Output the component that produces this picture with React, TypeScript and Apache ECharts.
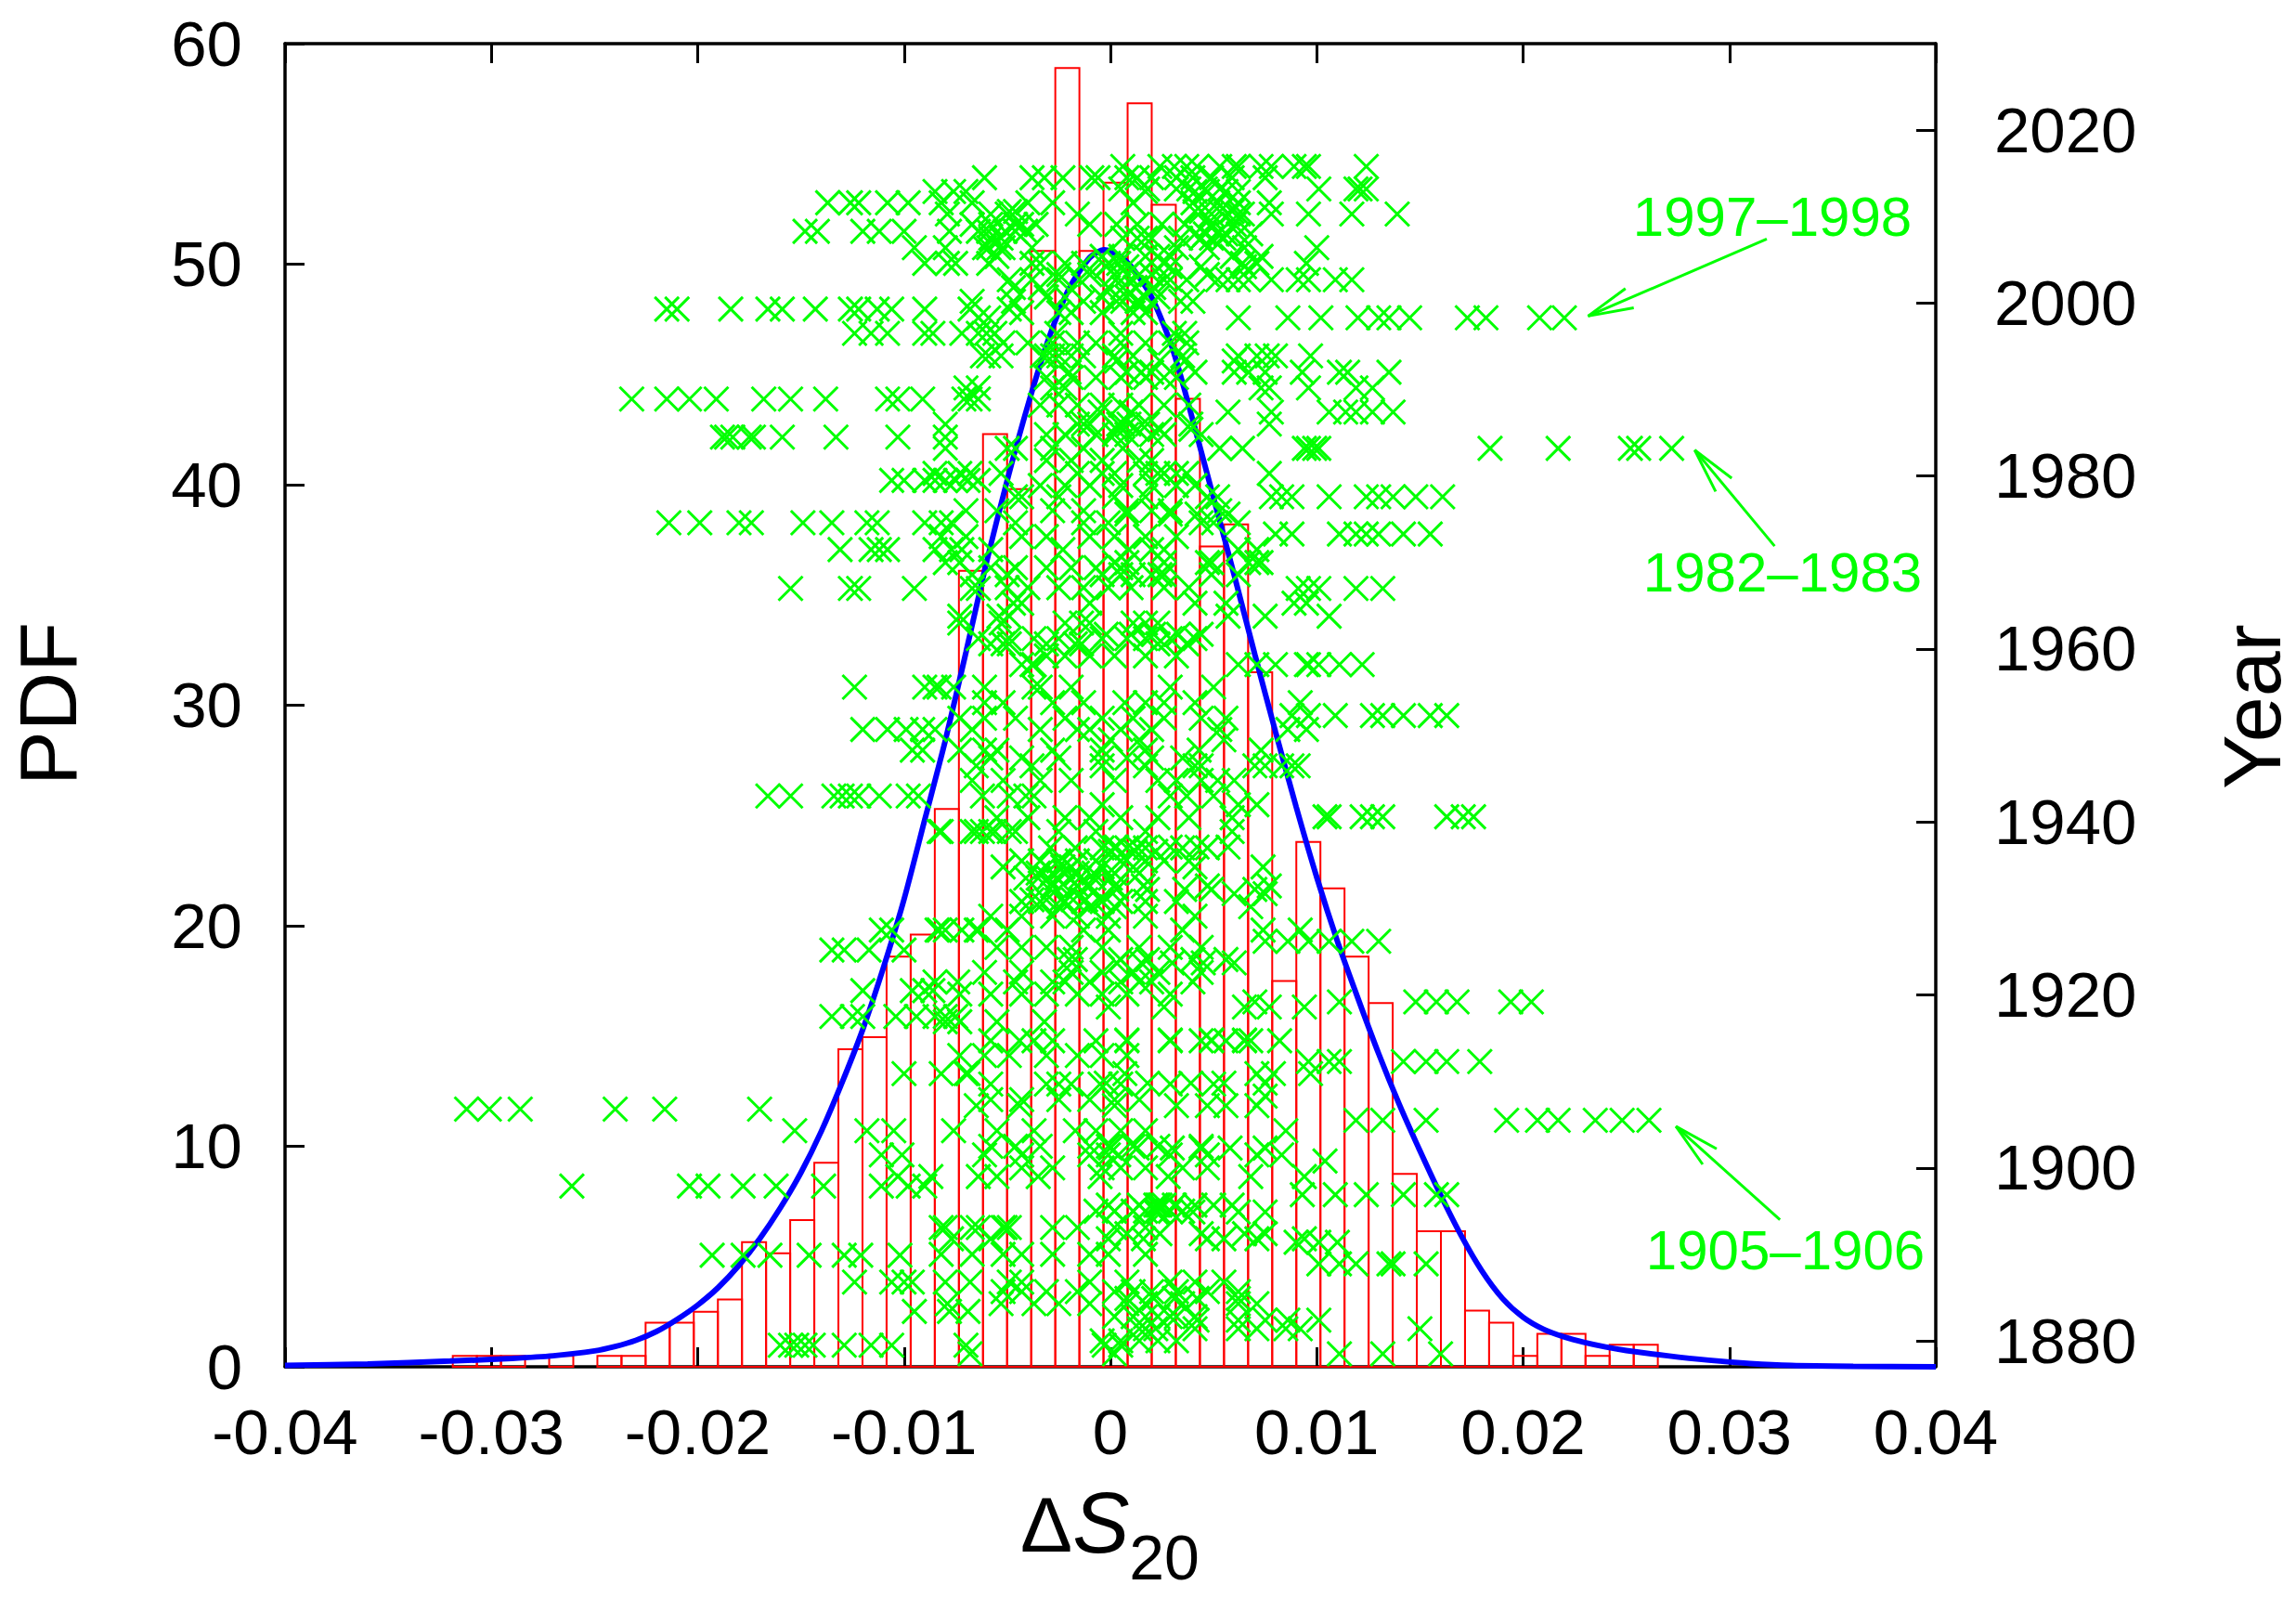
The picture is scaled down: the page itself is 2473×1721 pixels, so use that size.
import React, { useEffect, useRef } from "react";
import * as echarts from "echarts";

// ---------- DATA ----------
// histogram: 50 equal bins starting at BIN_START
const BIN_START = -0.03187;
const BIN_WIDTH = 0.001168;
const binHeights = [
  0.5, 0.5, 0.5, 0, 0.5, 0, 0.5, 0.5,
  2.0, 2.0, 2.5, 3.05, 5.65, 5.15, 6.65, 9.25,
  14.4, 14.95, 18.6, 19.6, 25.3, 36.1, 42.3, 39.8,
  50.6, 58.9, 50.6, 53.7, 57.3, 52.7, 43.9, 37.2,
  38.2, 31.5, 17.5, 23.8, 21.7, 18.6, 16.5, 8.75,
  6.15, 6.15, 2.55, 2.0, 0.5, 1.5, 1.5, 0.5,
  1.0, 1.0,
];

// fitted PDF curve
const curveX = [
  -0.04, -0.036, -0.032, -0.029, -0.027, -0.025, -0.024, -0.023, -0.022, -0.021,
  -0.02, -0.019, -0.018, -0.017, -0.016, -0.015, -0.014, -0.013, -0.012, -0.011,
  -0.01, -0.009, -0.008, -0.007, -0.006, -0.005, -0.004, -0.003, -0.002, -0.001,
  -0.0003, 0.0004, 0.001, 0.002, 0.003, 0.004, 0.005, 0.006, 0.007, 0.008,
  0.009, 0.01, 0.011, 0.012, 0.013, 0.014, 0.015, 0.016, 0.017, 0.018,
  0.019, 0.02, 0.021, 0.022, 0.023, 0.024, 0.025, 0.027, 0.029, 0.031,
  0.033, 0.036, 0.04,
];
const curveY = [
  0.06, 0.13, 0.26, 0.38, 0.5, 0.72, 0.92, 1.2, 1.6, 2.15,
  2.8, 3.6, 4.6, 5.8, 7.2, 8.8, 10.7, 12.9, 15.3, 18.1,
  21.2, 24.8, 28.4, 32.4, 36.5, 40.2, 43.6, 46.6, 48.9, 50.3,
  50.65, 50.4, 49.9, 48.5, 46.2, 42.9, 39.4, 35.9, 32.3, 28.8,
  25.4, 22.2, 19.3, 16.7, 14.2, 11.9, 9.8, 7.8, 5.95, 4.35,
  3.1, 2.25, 1.7, 1.35, 1.1, 0.9, 0.74, 0.5, 0.3, 0.15,
  0.06, 0.02, 0.0,
];

// scatter: [year, [ΔS20 values]]
const scatterRows: [number, number[]][] = [
  [2015.8, [0.0006, 0.0024, 0.0031, 0.0037, 0.0042, 0.0053, 0.006, 0.0062, 0.0073, 0.0078, 0.0089, 0.0094, 0.0096, 0.0124]],
  [2014.5, [-0.0061, -0.0038, -0.0032, -0.0023, -0.0009, -0.0006, 0.0008, 0.0013, 0.002, 0.0032, 0.004, 0.0049, 0.0059, 0.0075]],
  [2013.2, [0.0005, 0.0018, 0.0032, 0.0038, 0.0046, 0.0053, 0.0101, 0.0119, 0.0121, 0.0124]],
  [2012.9, [-0.0085, -0.0076, -0.007, 0.0017, 0.0041, 0.0047, 0.0056, 0.0062]],
  [2011.6, [-0.0137, -0.0126, -0.0122, -0.0108, -0.0098, -0.0082, -0.0067, -0.004, -0.0028, 0.0011, 0.004, 0.0052, 0.0062, 0.0077]],
  [2010.6, [-0.0049, -0.0046, 0.0041, 0.0044, 0.0053, 0.0059]],
  [2010.3, [-0.0079, -0.0058, -0.005, -0.0016, 0.0049, 0.0057, 0.0062, 0.0064, 0.0078, 0.0096, 0.0117, 0.0139]],
  [2009.1, [-0.0067, -0.0058, -0.0046, -0.0043, -0.0036, -0.001, 0.0003, 0.0013, 0.0025, 0.0036, 0.0049, 0.006]],
  [2008.3, [-0.0148, -0.0142, -0.012, -0.0112, -0.01, -0.0078, -0.0064, -0.0059, -0.0051, -0.0046, -0.0041]],
  [2008.0, [0.0041, 0.0046, 0.0052, 0.0056, 0.0062, 0.0068]],
  [2007.5, [-0.0058, -0.0053, 0.0006, 0.0013, 0.0017, 0.002, 0.0034, 0.0044, 0.0049, 0.0055]],
  [2006.4, [-0.0095, -0.008, -0.0061, -0.0059, -0.0054, -0.0052, -0.0038, 0.0032, 0.0047, 0.0065, 0.01]],
  [2005.4, [-0.0055, -0.0004, 0.0005, 0.0017, 0.0023, 0.0029, 0.0059, 0.0073]],
  [2004.6, [-0.009, -0.0079, -0.0075, -0.0059, -0.0038, -0.0034, -0.0022, -0.0013, -0.0001, 0.0004, 0.0026, 0.0064, 0.0071, 0.0095]],
  [2004.2, [-0.0002, 0.0008, 0.0029, 0.0044, 0.0065]],
  [2003.3, [-0.0025, -0.001, 0.0002, 0.0008, 0.0014, 0.002, 0.0047]],
  [2002.7, [-0.0049, -0.0038, -0.0025, -0.0015, 0.0026, 0.0029, 0.0037, 0.0052, 0.0057, 0.0062, 0.0067, 0.0078, 0.0091, 0.0096, 0.0109, 0.0117]],
  [2001.8, [-0.0047, -0.0034, -0.0001, 0.0006, 0.0012, 0.0021]],
  [2000.7, [-0.0031, -0.0022, -0.0004, 0.0008, 0.0017, 0.0023]],
  [2000.2, [-0.0067, -0.0047, -0.0013, 0.0003, 0.0006, 0.0013, 0.0014, 0.0034, 0.004]],
  [1999.3, [-0.0215, -0.021, -0.0184, -0.0166, -0.0159, -0.0143, -0.0126, -0.0122, -0.0113, -0.0106, -0.009, -0.0068, -0.0049]],
  [1998.9, [-0.0043, -0.0025, -0.0019, -0.0004, 0.0011, 0.0017]],
  [1998.3, [-0.0064, -0.0059, 0.0062, 0.0086, 0.0102, 0.012, 0.013, 0.0135, 0.0145, 0.0173, 0.0182, 0.0208, 0.022]],
  [1996.5, [-0.0124, -0.0116, -0.0108, -0.009, -0.0086, -0.0072, -0.0064, -0.006, -0.0056, -0.0026, 0.0005, 0.0031, 0.0036]],
  [1995.4, [-0.0052, -0.004, -0.0028, -0.0016, -0.0007, 0.0005, 0.0017, 0.0029, 0.0037]],
  [1993.9, [-0.0062, -0.0059, -0.0053, -0.0033, -0.0031, -0.0028, -0.0025, -0.0019, -0.0013, 0.0002, 0.0011, 0.0035, 0.0062, 0.0071, 0.0076, 0.008, 0.0097]],
  [1993.3, [0.0003, 0.0024, 0.0036, 0.006]],
  [1992.0, [-0.002, 0.0008, 0.0015, 0.002, 0.0041, 0.006, 0.0067, 0.0075, 0.0093, 0.0111, 0.0115, 0.0135]],
  [1991.4, [-0.0031, -0.0019, -0.0007, 0.0005, 0.0017, 0.0026, 0.0032]],
  [1990.2, [-0.007, -0.0064, -0.0028, -0.0022, 0.0073, 0.0077, 0.0096, 0.0119, 0.0127]],
  [1988.9, [-0.0232, -0.0215, -0.0204, -0.0191, -0.0168, -0.0155, -0.0138, -0.0108, -0.0103, -0.0091, -0.0071, -0.0068, -0.0064]],
  [1988.2, [-0.0034, -0.0025, -0.0016, -0.0004, 0.0005, 0.0014, 0.0026, 0.0038]],
  [1987.4, [-0.0005, 0.001, 0.0057, 0.0078, 0.0106, 0.0114, 0.0119, 0.0127, 0.0137]],
  [1986.0, [-0.008, -0.0016, -0.0013, -0.001, 0.0004, 0.0006, 0.0009, 0.0018, 0.0039, 0.0077]],
  [1985.4, [0.0003, 0.0013, 0.0024, 0.0039]],
  [1984.8, [-0.0031, -0.0022, -0.0007, 0.0002, 0.0008, 0.002, 0.0026, 0.0044]],
  [1984.5, [-0.0188, -0.0186, -0.0183, -0.0175, -0.0173, -0.0159, -0.0133, -0.0103, -0.008]],
  [1983.2, [-0.008, -0.005, -0.0046, -0.0028, -0.0013, 0.0006, 0.0053, 0.0064, 0.0094, 0.0096, 0.0099, 0.0101, 0.0184, 0.0217, 0.0252, 0.0256, 0.0272]],
  [1981.8, [-0.0031, -0.0019, -0.0004, 0.0014, 0.002]],
  [1980.3, [-0.0085, -0.0073, -0.0068, -0.0053, -0.0016, -0.0004, 0.0002, 0.0017, 0.0023, 0.0026, 0.0032, 0.0037, 0.0077]],
  [1979.5, [-0.0106, -0.01, -0.009, -0.0085, -0.008, -0.0075, -0.0069, -0.0064]],
  [1978.9, [-0.0034, -0.0022, -0.001, 0.0005, 0.002, 0.0032, 0.0041]],
  [1977.6, [-0.0046, -0.0043, -0.0025, 0.0002, 0.0017, 0.0047, 0.0052, 0.0078, 0.0083, 0.0088, 0.0106, 0.0124, 0.013, 0.0137, 0.0148, 0.0161]],
  [1976.0, [-0.007, -0.0055, -0.0028, -0.0013, 0.0008, 0.002, 0.0029, 0.0053]],
  [1975.6, [0.0008, 0.0029, 0.0042, 0.0057]],
  [1974.6, [-0.0214, -0.0199, -0.018, -0.0174, -0.0149, -0.0135, -0.0118, -0.0113, -0.009, -0.0082, -0.0077, -0.0046, -0.0013, -0.0001, 0.0044, 0.005, 0.0062]],
  [1973.3, [0.008, 0.0088, 0.0111, 0.0119, 0.0124, 0.013, 0.0142, 0.0155]],
  [1973.0, [-0.0082, -0.007, -0.0043, -0.0031, -0.001, 0.0002, 0.0017, 0.0032]],
  [1971.5, [-0.0131, -0.0116, -0.0112, -0.0108, -0.0085, -0.0077, -0.0072, -0.0058, -0.0023, 0.0009, 0.002, 0.0026, 0.0062, 0.0071]],
  [1970.0, [-0.008, -0.0073, 0.0002, 0.0008, 0.0026, 0.0047, 0.0049, 0.0067, 0.0071, 0.0073]],
  [1969.4, [-0.0058, -0.0046, -0.0031, -0.0019, -0.0007, 0.0005]],
  [1968.6, [-0.0067, -0.005, -0.0004, 0.0005, 0.0011, 0.002, 0.0024, 0.0026, 0.0049, 0.0062]],
  [1967.1, [-0.005, -0.004, -0.0025, -0.0013, -0.0001, 0.001, 0.0026, 0.0038]],
  [1967.0, [-0.0155, -0.0126, -0.0122, -0.0095, -0.0067, -0.0064, 0.0091, 0.0096, 0.0101, 0.0119, 0.0132]],
  [1965.3, [-0.0047, -0.0043, -0.001, 0.0041, 0.0056, 0.0089, 0.0095]],
  [1963.8, [-0.0073, -0.0054, -0.0049, 0.0057, 0.0075, 0.0106]],
  [1963.0, [-0.0073, -0.0053, -0.0022, -0.0014, -0.001, 0.0011, 0.0017, 0.0023]],
  [1961.7, [-0.0002, 0.001, 0.0021, 0.0033, 0.0044]],
  [1961.2, [-0.0064, -0.0049, -0.0037, -0.0025, -0.0004, 0.0008, 0.0017, 0.0029, 0.0041]],
  [1960.6, [-0.0058, -0.0052, -0.0049, -0.0031, -0.0017, -0.0014, 0.0023, 0.0037]],
  [1959.2, [-0.0031, -0.0022, -0.001, 0.0002, 0.0017, 0.0032]],
  [1958.2, [-0.0043, -0.0038, -0.0037, 0.0062, 0.0071, 0.008, 0.0095, 0.0096, 0.0101, 0.0111, 0.0122]],
  [1955.6, [-0.0124, -0.009, -0.0085, -0.0083, -0.0076, -0.0061, -0.0037, -0.0034, -0.0019, 0.0029, 0.005]],
  [1953.8, [-0.0061, -0.0052, -0.0028, -0.0013, 0.0007, 0.0017, 0.0026, 0.0041, 0.0092]],
  [1952.3, [0.0088, 0.0096, 0.0109, 0.0127, 0.0132, 0.0142, 0.0155, 0.0163]],
  [1952.0, [-0.0073, -0.0061, -0.0046, -0.0022, -0.0004, 0.0011, 0.0026, 0.0044, 0.0056]],
  [1950.7, [-0.012, -0.0108, -0.0099, -0.0091, -0.0085, -0.0067, -0.0034, -0.0016, -0.001, 0.0005, 0.002, 0.0053, 0.0086, 0.0095]],
  [1949.5, [0.0, 0.0014, 0.0055]],
  [1948.3, [-0.0096, -0.0091, -0.0073, -0.0061, -0.0055, -0.0028, -0.0004, 0.0017, 0.0043, 0.0073]],
  [1947.4, [-0.0058, -0.0043, -0.0025, -0.0004, 0.0008, 0.002, 0.0035]],
  [1946.5, [-0.0065, -0.0038, -0.0004, 0.0017, 0.0041, 0.0044, 0.007, 0.0075, 0.0083, 0.0088, 0.0091]],
  [1944.8, [-0.0067, -0.0052, -0.0034, -0.0019, 0.0002, 0.0023, 0.0032, 0.0044, 0.0052, 0.006]],
  [1943.0, [-0.0166, -0.0155, -0.0134, -0.013, -0.0126, -0.0122, -0.0112, -0.0098, -0.0093, -0.0062, -0.0049, -0.0041, -0.0037, 0.0029, 0.0037, 0.005]],
  [1942.0, [-0.0004, 0.0062, 0.0071]],
  [1940.6, [0.0104, 0.0106, 0.0122, 0.0127, 0.0132, 0.0163, 0.0171, 0.0176]],
  [1940.5, [-0.0055, -0.004, -0.0022, -0.001, 0.0005, 0.0023, 0.0038, 0.0059]],
  [1938.9, [-0.0083, -0.0082, -0.0067, -0.0065, -0.0062, -0.0058, -0.0056, -0.0049, -0.0046, -0.0025, -0.0007, 0.0017, 0.0059]],
  [1937.1, [0.0003, 0.0013, 0.0029, 0.0042, 0.0057]],
  [1937.0, [-0.0029, -0.0017, -0.0004, 0.0002, 0.0008, 0.0017, 0.0035, 0.0047]],
  [1936.6, [0.0, 0.0012, 0.0022]],
  [1935.5, [-0.0043, -0.0034, -0.0025, -0.0016, -0.0007, 0.0005, 0.0017, 0.0026, 0.0038]],
  [1934.8, [-0.0052, -0.0031, -0.0023, -0.0019, -0.0004, 0.0011, 0.0041, 0.0074]],
  [1934.1, [-0.0035, -0.0028, -0.0022, -0.0016, -0.0008, 0.0002, 0.0014]],
  [1933.5, [-0.0041, -0.0035, -0.003, -0.0026, -0.002, -0.0015, -0.0008, 0.0]],
  [1932.6, [-0.0028, -0.0016, -0.001, 0.0002, 0.0016, 0.0047, 0.0077]],
  [1932.2, [0.0003, 0.0018, 0.0036, 0.0049, 0.007]],
  [1931.7, [0.006, 0.0075]],
  [1931.0, [-0.0038, -0.0031, -0.0024, -0.0018, -0.0012, -0.0005]],
  [1930.8, [-0.0043, -0.0034, -0.0022, -0.0013, -0.0004, 0.0005, 0.0017, 0.0032]],
  [1930.2, [-0.0025, -0.001, 0.0002, 0.0068]],
  [1929.1, [-0.0058, -0.0043, -0.0028, -0.0016, -0.0001, 0.0017, 0.0041]],
  [1927.5, [-0.0111, -0.0106, -0.0084, -0.0083, -0.008, -0.0072, -0.0065, -0.0064, -0.005, -0.0013, -0.0001, 0.0035, 0.0074, 0.0092]],
  [1926.2, [0.0075, 0.0086, 0.0096, 0.0106, 0.0117, 0.013]],
  [1925.5, [-0.0055, -0.0043, -0.0031, -0.0019, -0.0004, 0.0014, 0.0029, 0.0044]],
  [1925.2, [-0.0135, -0.0129, -0.0117, -0.01]],
  [1924.1, [-0.002, -0.0017, 0.0005, 0.0018, 0.004, 0.0056]],
  [1923.7, [0.0003, 0.0015, 0.003, 0.0045, 0.006]],
  [1922.6, [-0.0061, -0.0043, -0.0019, -0.0004, 0.0011, 0.0023, 0.0044]],
  [1921.5, [-0.0085, -0.0074, -0.0046, -0.0028, -0.0022, -0.001, 0.0005, 0.0014, 0.002, 0.004]],
  [1920.5, [-0.012, -0.0096, -0.009, -0.0086]],
  [1920.1, [-0.0073, -0.0058, -0.0043, -0.0031, -0.0016, -0.0004, 0.0008, 0.0029]],
  [1919.2, [0.007, 0.0111, 0.0148, 0.0158, 0.0168, 0.0194, 0.0204]],
  [1918.6, [-0.0001, 0.0026, 0.0065, 0.0077, 0.0094]],
  [1917.5, [-0.0135, -0.0125, -0.012, -0.0104, -0.0094, -0.0085, -0.008, -0.0075]],
  [1916.9, [-0.008, -0.0073, -0.0055, -0.0032]],
  [1914.8, [0.0008, 0.0029, 0.0049, 0.0065]],
  [1914.7, [-0.0058, -0.0044, -0.0037, -0.0028, -0.0007, 0.0008, 0.0029, 0.0044, 0.0049, 0.0056, 0.0065, 0.0068, 0.0082]],
  [1913.0, [-0.0073, -0.0061, -0.0049, -0.0031, -0.0016, -0.0004, 0.0008]],
  [1912.3, [0.0096, 0.0106, 0.0111, 0.0142, 0.0153, 0.0163, 0.0179]],
  [1910.9, [-0.01, -0.0082, -0.007, -0.0069, 0.0007, 0.0071, 0.0079, 0.0097]],
  [1909.8, [-0.0002, 0.0018, 0.0039, 0.0055, 0.0075]],
  [1909.7, [-0.0058, -0.0031, -0.0025, -0.0019, -0.0005, 0.0005, 0.0029, 0.005]],
  [1908.3, [0.0075]],
  [1907.9, [-0.0058, -0.0043, -0.0025, -0.001, 0.0002, 0.0014]],
  [1907.2, [-0.0065, -0.0044, 0.0002, 0.0032, 0.0047, 0.0056, 0.0071]],
  [1906.8, [-0.0312, -0.0301, -0.0286, -0.024, -0.0216, -0.017]],
  [1905.5, [0.0119, 0.0132, 0.0153, 0.0192, 0.0207, 0.0217, 0.0235, 0.0248, 0.0261]],
  [1904.3, [-0.0153, -0.0118, -0.0105, -0.0076, -0.0055, -0.0037, -0.0017, -0.0007, 0.0005, 0.0017, 0.0085]],
  [1902.5, [-0.0058, -0.0046, -0.0034, -0.001, -0.0001, 0.0011, 0.0023, 0.0044]],
  [1902.3, [0.0, 0.0013, 0.003, 0.0044, 0.0058, 0.0075]],
  [1901.5, [-0.0111, -0.0101, -0.0061, -0.0043, -0.001, -0.0001, 0.0004, 0.0029, 0.0047, 0.0071, 0.0083]],
  [1900.8, [0.0104]],
  [1900.0, [-0.0043, -0.0028, -0.0004, 0.0005, 0.0017, 0.0035, 0.0047]],
  [1899.0, [-0.0103, -0.0087, -0.0064, -0.0055, -0.0035, -0.0005, 0.0028, 0.0068, 0.0094]],
  [1897.9, [-0.0261, -0.0204, -0.0195, -0.0178, -0.0162, -0.0139, -0.0111, -0.0098, -0.009]],
  [1896.9, [0.0093, 0.0109, 0.0124, 0.0142, 0.0158, 0.0163]],
  [1895.7, [-0.0001, 0.0014, 0.0022, 0.0023, 0.0024, 0.0026, 0.0031, 0.0041, 0.005, 0.0059]],
  [1895.0, [-0.0007, 0.0002, 0.0011, 0.0017, 0.0023, 0.0029, 0.0035]],
  [1894.9, [0.0022, 0.004, 0.0062, 0.0075]],
  [1893.1, [-0.0082, -0.008, -0.0067, -0.0064, -0.0052, -0.0051, -0.0049, -0.0028, -0.0016, 0.0002, 0.0017]],
  [1892.4, [0.0008, 0.0024, 0.0044, 0.0065, 0.0075]],
  [1891.8, [-0.0077, -0.0058, -0.0001, 0.0016, 0.0047, 0.0055, 0.0071, 0.0094]],
  [1891.4, [0.009, 0.0101, 0.011]],
  [1890.0, [-0.0082, -0.0067, -0.0052, -0.0043, -0.0028, -0.001, -0.0001, 0.0017]],
  [1889.9, [-0.0193, -0.0178, -0.0165, -0.0146, -0.0129, -0.0121, -0.0102]],
  [1888.9, [0.0101, 0.0111, 0.0119, 0.0135, 0.0137, 0.0153]],
  [1886.8, [-0.0124, -0.0106, -0.01, -0.0096, -0.008, -0.0068, -0.0049, -0.0043, -0.001, 0.0008, 0.0029, 0.0041, 0.0055]],
  [1885.7, [-0.0052, -0.0043, -0.0031, -0.0016, 0.0002, 0.0011, 0.002, 0.0032, 0.0047, 0.0062]],
  [1884.9, [0.0008, 0.0021, 0.0031, 0.0042, 0.0062]],
  [1884.3, [-0.0079, -0.0053, -0.0037, -0.0025, -0.001, 0.0008, 0.0017, 0.0035, 0.0062, 0.0071]],
  [1883.4, [-0.0095, -0.0078, -0.0069]],
  [1882.8, [0.0002, 0.0011, 0.0017, 0.0023, 0.0029, 0.0032, 0.0041]],
  [1882.4, [0.0042, 0.0062, 0.0075, 0.0086, 0.0101]],
  [1881.4, [0.0014, 0.0017, 0.0022, 0.0041, 0.0062, 0.0071, 0.0085, 0.0092, 0.015]],
  [1880.0, [-0.0004, 0.0005, 0.0014, 0.0023, 0.0032]],
  [1879.5, [-0.016, -0.0155, -0.0152, -0.0148, -0.0144, -0.0129, -0.0116, -0.0106, -0.007, -0.0003, 0.0005]],
  [1878.5, [-0.0068, 0.0002, 0.0111, 0.0132, 0.016]],
];

const yearTicks = [1880, 1900, 1920, 1940, 1960, 1980, 2000, 2020];

// annotations: label, arrow tail and tip in (ΔS20, year)
const annLabels = ["1997\u20131998", "1982\u20131983", "1905\u20131906"];
const annTail: [number, number][] = [[0.03181, 2007.4], [0.03219, 1971.9], [0.03245, 1894.0]];
const annTip: [number, number][] = [[0.02315, 1998.5], [0.02832, 1983.0], [0.02741, 1904.8]];

// ---------- LAYOUT ----------
const W = 2473;
const H = 1721;
const FONT = '"Liberation Sans", Arial, Helvetica, sans-serif';
const annTextPos: [number, number][] = [[1909, 233], [1920, 616], [1923, 1346]];

export default function App() {
  const ref = useRef<HTMLDivElement>(null);

  useEffect(() => {
    document.body.style.margin = "0";
    const chart = echarts.init(ref.current!, null, { renderer: "svg", width: W, height: H });

    const histData = binHeights
      .map((h, i) => [BIN_START + i * BIN_WIDTH, BIN_START + (i + 1) * BIN_WIDTH, h])
      .filter((d) => d[2] > 0);
    const curveData = curveX.map((x, i) => [x, curveY[i]]);
    const scatterData: number[][] = [];
    scatterRows.forEach(([yr, xs]) => xs.forEach((x) => scatterData.push([x, yr])));

    const axisLine = { show: true, onZero: false, lineStyle: { color: "#000", width: 3.5 } };
    const tick = { show: true, inside: true, length: 21, lineStyle: { color: "#000", width: 3 } };
    const label = { color: "#000", fontSize: 69, fontFamily: FONT };

    chart.setOption({
      animation: false,
      backgroundColor: "#fff",
      textStyle: { fontFamily: FONT },
      grid: { left: 307, right: W - 2085, top: 47, bottom: H - 1472, containLabel: false, outerBoundsMode: "none" },
      xAxis: [
        {
          type: "value", min: -0.04, max: 0.04, interval: 0.01, position: "bottom",
          axisLine, axisTick: tick, splitLine: { show: false },
          axisLabel: {
            ...label, margin: 36, showMinLabel: true, showMaxLabel: true,
            formatter: (v: number) => (Math.abs(v) < 1e-9 ? "0" : v.toFixed(2)),
          },
        },
        {
          type: "value", min: -0.04, max: 0.04, interval: 0.01, position: "top",
          axisLine, axisTick: tick, splitLine: { show: false }, axisLabel: { show: false },
        },
      ],
      yAxis: [
        {
          type: "value", min: 0, max: 60, interval: 10, position: "left",
          axisLine, axisTick: tick, splitLine: { show: false },
          axisLabel: { ...label, margin: 46 },
        },
        {
          type: "value", min: 1877, max: 2030, position: "right",
          axisLine, splitLine: { show: false },
          axisTick: { ...tick, customValues: yearTicks },
          axisLabel: { ...label, margin: 63, customValues: yearTicks, formatter: (v: number) => String(Math.round(v)) },
        },
      ],
      series: [
        {
          type: "custom", xAxisIndex: 0, yAxisIndex: 0, z: 2, silent: true,
          data: histData,
          encode: { x: [0, 1], y: 2 },
          renderItem: (_p: any, api: any) => {
            const a = api.coord([api.value(0), api.value(2)]);
            const b = api.coord([api.value(1), 0]);
            return {
              type: "rect",
              shape: { x: a[0], y: a[1], width: b[0] - a[0], height: b[1] - a[1] },
              style: { fill: "none", stroke: "#ff0000", lineWidth: 2 },
            };
          },
        },
        {
          type: "line", xAxisIndex: 0, yAxisIndex: 0, z: 3, silent: true,
          data: curveData, showSymbol: false, smooth: 0.25,
          lineStyle: { color: "#0000ff", width: 6 },
        },
        {
          type: "scatter", xAxisIndex: 0, yAxisIndex: 1, z: 4, silent: true,
          data: scatterData,
          symbol: "path://M0,0L10,10M10,0L0,10",
          symbolSize: 26,
          itemStyle: { color: "rgba(0,0,0,0)", borderColor: "#00ff00", borderWidth: 3, opacity: 1 },
        },
      ],
    });

    const g: any[] = [];
    g.push({ type: "text", x: 51, y: 758, rotation: Math.PI / 2, silent: true,
      style: { text: "PDF", fontSize: 88, fontFamily: FONT, fill: "#000", align: "center", verticalAlign: "middle" } });
    g.push({ type: "text", x: 2425, y: 761, rotation: Math.PI / 2, silent: true,
      style: { text: "Year", fontSize: 88, fontFamily: FONT, fill: "#000", align: "center", verticalAlign: "middle" } });
    g.push({ type: "text", x: 1127, y: 1642, silent: true,
      style: { text: "\u0394", fontSize: 84, fontFamily: FONT, fill: "#000", align: "center", verticalAlign: "middle" } });
    g.push({ type: "text", x: 1186, y: 1640, silent: true,
      style: { text: "S", fontSize: 92, fontStyle: "italic", fontFamily: FONT, fill: "#000", align: "center", verticalAlign: "middle" } });
    g.push({ type: "text", x: 1254, y: 1677, silent: true,
      style: { text: "20", fontSize: 68, fontFamily: FONT, fill: "#000", align: "center", verticalAlign: "middle" } });

    const green = "#00ff00";
    annLabels.forEach((t, i) => {
      g.push({ type: "text", x: annTextPos[i][0], y: annTextPos[i][1], silent: true, z: 10,
        style: { text: t, fontSize: 60, fontFamily: FONT, fill: green, align: "center", verticalAlign: "middle" } });
      const tail = chart.convertToPixel({ seriesIndex: 2 }, annTail[i]) as number[];
      const tip = chart.convertToPixel({ seriesIndex: 2 }, annTip[i]) as number[];
      const ang = Math.atan2(tail[1] - tip[1], tail[0] - tip[0]);
      const L = 50;
      const da = (13 * Math.PI) / 180;
      const b1 = [tip[0] + L * Math.cos(ang + da), tip[1] + L * Math.sin(ang + da)];
      const b2 = [tip[0] + L * Math.cos(ang - da), tip[1] + L * Math.sin(ang - da)];
      const ls = { stroke: green, lineWidth: 3 };
      g.push({ type: "line", silent: true, z: 10, shape: { x1: tail[0], y1: tail[1], x2: tip[0], y2: tip[1] }, style: ls });
      g.push({ type: "polyline", silent: true, z: 10, shape: { points: [b1, tip, b2] }, style: { ...ls, fill: "none" } });
    });

    chart.setOption({ graphic: g });

    return () => chart.dispose();
  }, []);

  return <div ref={ref} style={{ position: "absolute", left: 0, top: 0, width: W, height: H, background: "#fff" }} />;
}
